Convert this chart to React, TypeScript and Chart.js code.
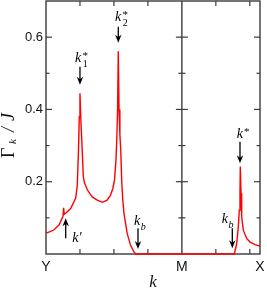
import React, { useEffect, useRef } from 'react';
import { Chart, registerables } from 'chart.js';

Chart.register(...registerables);

// wave vector along the path Y -> M -> X (M at 4, X at 6.3)
const kValues = [
  0, 0.118, 0.236, 0.383, 0.5, 0.52, 0.535, 0.58, 0.727, 0.874,
  0.921, 0.957, 0.98, 1.0, 1.022, 1.065, 1.098, 1.13,
  1.22, 1.36, 1.51, 1.66, 1.8, 1.9, 1.97, 2.017, 2.06, 2.085,
  2.108, 2.128, 2.15, 2.175, 2.2, 2.23, 2.26, 2.296, 2.39, 2.49,
  2.59, 2.64, 5.543, 5.614, 5.661, 5.691, 5.711, 5.72, 5.741, 5.761,
  5.808, 5.908, 6.006, 6.153, 6.3,
];
// damping rate Gamma_k / J
const gammaValues = [
  0.058, 0.062, 0.067, 0.08, 0.104, 0.128, 0.11, 0.113, 0.126, 0.155,
  0.19, 0.29, 0.38, 0.445, 0.38, 0.29, 0.215, 0.198,
  0.177, 0.158, 0.149, 0.143, 0.149, 0.163, 0.182, 0.205, 0.26, 0.32,
  0.4, 0.561, 0.4, 0.33, 0.29, 0.2, 0.15, 0.112, 0.057, 0.024,
  0.006, 0, 0, 0.029, 0.075, 0.121, 0.168, 0.242, 0.168, 0.103,
  0.066, 0.043, 0.033, 0.026, 0.022,
];

const xTickValues = [0, 4, 6.3];
const xTickLabels = ['Y', 'M', 'X'];
const xMinorTicks = [1, 2, 3, 5, 6];
const panelDividers = [4];
const yMajorTicks = [0.2, 0.4, 0.6];
const yMinorTicks = [0.1, 0.3, 0.5];

// annotation arrows (k position, tail value, tip value)
const arrowK = [1.0, 2.128, 0.58, 2.708, 5.485, 5.711];
const arrowFrom = [0.518, 0.629, 0.0434, 0.0711, 0.0711, 0.3107];
const arrowTo = [0.468, 0.5846, 0.0988, 0.0138, 0.0158, 0.2509];

// annotation labels
const labelK = [0.854, 2.031, 0.774, 2.591, 5.172, 5.614];
const labelV = [0.532, 0.6455, 0.034, 0.0802, 0.0849, 0.3201];
const labelMain = ['k', 'k', "k'", 'k', 'k', 'k'];
const labelSup = ['*', '*', '', '', '', '*'];
const labelSub = ['1', '2', '', 'b', 'b', ''];

const SERIF = '"Liberation Serif", "DejaVu Serif", serif';
const SANS = '"Liberation Sans", Arial, sans-serif';

const framePlugin = {
  id: 'frame',
  beforeDatasetsDraw(chart: any) {
    const { ctx, chartArea: a, scales } = chart;
    const x = scales.x;
    const y = scales.y;
    const line = (x0: number, y0: number, x1: number, y1: number) => {
      ctx.beginPath();
      ctx.moveTo(x0, y0);
      ctx.lineTo(x1, y1);
      ctx.stroke();
    };
    ctx.save();
    ctx.strokeStyle = '#3a3a3a';
    ctx.lineWidth = 1.4;
    ctx.strokeRect(a.left, a.top, a.right - a.left, a.bottom - a.top);
    for (const d of panelDividers) {
      const px = x.getPixelForValue(d);
      line(px, a.top, px, a.bottom);
    }
    ctx.lineWidth = 1.2;
    const yTick = (vals: number[], len: number) => {
      for (const v of vals) {
        const py = y.getPixelForValue(v);
        line(a.left, py, a.left + len, py);
        line(a.right, py, a.right - len, py);
        for (const d of panelDividers) {
          const px = x.getPixelForValue(d);
          line(px - len, py, px + len, py);
        }
      }
    };
    yTick(yMajorTicks, 6);
    yTick(yMinorTicks, 3.5);
    for (const k of xMinorTicks) {
      const px = x.getPixelForValue(k);
      line(px, a.top, px, a.top + 5);
      line(px, a.bottom, px, a.bottom - 5);
    }
    ctx.restore();
  },
  afterDatasetsDraw(chart: any) {
    const { ctx, scales } = chart;
    const x = scales.x;
    const y = scales.y;
    ctx.save();
    ctx.strokeStyle = '#000';
    ctx.fillStyle = '#000';
    ctx.lineWidth = 1.3;
    for (let i = 0; i < arrowK.length; i++) {
      const px = x.getPixelForValue(arrowK[i]);
      const y0 = y.getPixelForValue(arrowFrom[i]);
      const y1 = y.getPixelForValue(arrowTo[i]);
      const dir = y1 > y0 ? 1 : -1;
      const head = 8;
      ctx.beginPath();
      ctx.moveTo(px, y0);
      ctx.lineTo(px, y1 - dir * head * 0.6);
      ctx.stroke();
      ctx.beginPath();
      ctx.moveTo(px, y1);
      ctx.lineTo(px - 3.2, y1 - dir * head);
      ctx.lineTo(px, y1 - dir * head * 0.7);
      ctx.lineTo(px + 3.2, y1 - dir * head);
      ctx.closePath();
      ctx.fill();
    }
    ctx.textBaseline = 'alphabetic';
    ctx.textAlign = 'left';
    for (let i = 0; i < labelK.length; i++) {
      const px = x.getPixelForValue(labelK[i]);
      const py = y.getPixelForValue(labelV[i]);
      ctx.font = `italic 14px ${SERIF}`;
      ctx.fillText(labelMain[i], px, py);
      const w = ctx.measureText(labelMain[i]).width;
      if (labelSup[i]) {
        ctx.font = `11px ${SERIF}`;
        ctx.fillText(labelSup[i], px + w + 1.2, py - 3);
      }
      if (labelSub[i]) {
        const isDigit = /\d/.test(labelSub[i]);
        ctx.font = isDigit ? `10px ${SERIF}` : `italic 10px ${SERIF}`;
        ctx.fillText(labelSub[i], px + w + (isDigit ? 1.6 : 0.6), py + (isDigit ? 5 : 4.5));
      }
    }
    ctx.restore();
  },
  afterDraw(chart: any) {
    const { ctx } = chart;
    ctx.save();
    ctx.fillStyle = '#111';
    ctx.textBaseline = 'alphabetic';
    ctx.textAlign = 'left';
    ctx.translate(13.5, 158);
    ctx.rotate(-Math.PI / 2);
    ctx.font = `18px ${SERIF}`;
    ctx.fillText('\u0393', 0, 0);
    ctx.font = `italic 11px ${SERIF}`;
    ctx.fillText('k', 14, 2.5);
    ctx.font = `italic 18px ${SERIF}`;
    ctx.fillText('/', 26, 0);
    ctx.fillText('J', 37, 0);
    ctx.restore();
  },
};

export default function App() {
  const canvasRef = useRef<HTMLCanvasElement | null>(null);

  useEffect(() => {
    document.body.style.margin = '0';
    const canvas = canvasRef.current;
    if (!canvas) return;
    const points = kValues.map((k, i) => ({ x: k, y: gammaValues[i] }));
    const chart = new Chart(canvas, {
      type: 'line',
      data: {
        datasets: [
          {
            data: points,
            borderColor: 'rgb(255, 0, 0)',
            borderWidth: 1.4,
            pointRadius: 0,
            tension: 0,
            fill: false,
            clip: false as any,
          },
        ],
      },
      options: {
        animation: false,
        responsive: true,
        maintainAspectRatio: false,
        events: [],
        layout: { padding: { top: 1, right: 7, left: 0, bottom: 0 } },
        plugins: { legend: { display: false }, tooltip: { enabled: false } },
        scales: {
          x: {
            type: 'linear',
            min: 0,
            max: 6.3,
            grid: { display: false, drawTicks: false },
            border: { display: false },
            afterFit: (scale: any) => {
              scale.height = 37;
              scale.paddingLeft = 0;
              scale.paddingRight = 0;
            },
            afterBuildTicks: (scale: any) => {
              scale.ticks = xTickValues.map((v) => ({ value: v }));
            },
            ticks: {
              autoSkip: false,
              maxRotation: 0,
              padding: 5,
              color: '#111',
              font: { family: SANS, size: 14 },
              callback: (value: any) => {
                const i = xTickValues.indexOf(Number(value));
                return i >= 0 ? xTickLabels[i] : null;
              },
            },
            title: {
              display: true,
              text: 'k',
              color: '#111',
              padding: 0,
              font: { family: SERIF, size: 17, style: 'italic', lineHeight: 1 },
            },
          },
          y: {
            type: 'linear',
            min: 0,
            max: 0.7,
            grid: { display: false, drawTicks: false },
            border: { display: false },
            afterFit: (scale: any) => {
              scale.width = 46;
              scale.paddingTop = 0;
              scale.paddingBottom = 0;
            },
            ticks: {
              stepSize: 0.1,
              padding: 3,
              color: '#111',
              font: { family: SANS, size: 13 },
              callback: (value: any) => {
                const r = Math.round(Number(value) * 10);
                return r === 2 || r === 4 || r === 6 ? (r / 10).toFixed(1) : null;
              },
            },
          },
        },
      },
      plugins: [framePlugin],
    });
    return () => chart.destroy();
  }, []);

  return (
    <div style={{ position: 'relative', width: 267, height: 291 }}>
      <canvas ref={canvasRef} />
    </div>
  );
}
